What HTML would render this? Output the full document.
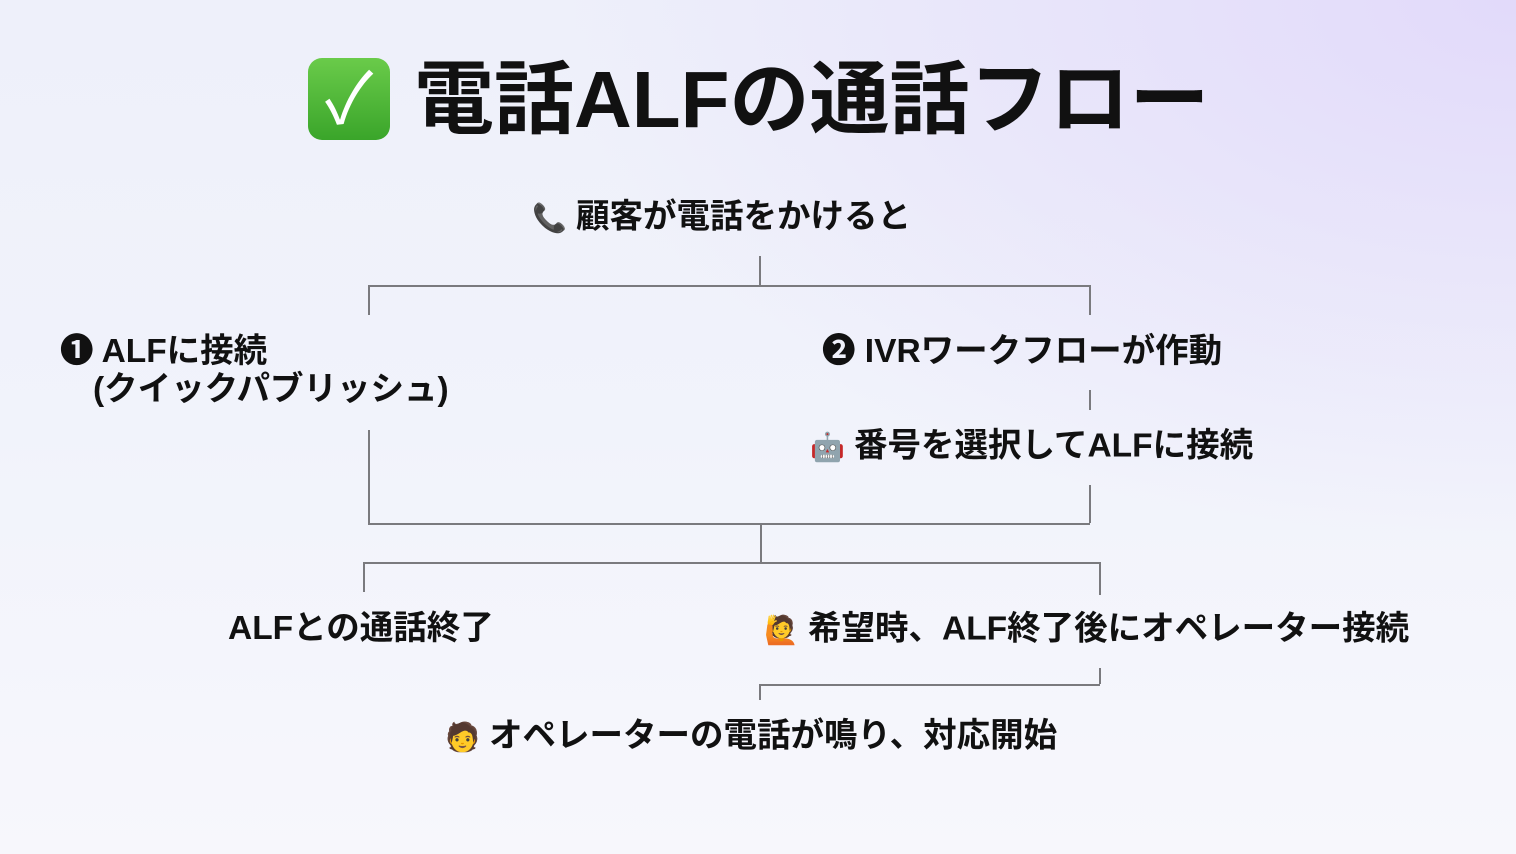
<!DOCTYPE html>
<html><head><meta charset="utf-8"><style>
html,body{margin:0;padding:0}
body{width:1516px;height:854px;position:relative;overflow:hidden;
background:radial-gradient(ellipse at 100% 0%,#e2dafa 0%,rgba(226,218,250,0) 45%),linear-gradient(180deg,#eef0fa 0%,#f1f3fb 50%,#f7f7fc 100%);
font-family:"Liberation Sans","Noto Sans CJK JP",sans-serif;color:#111;font-weight:700}
.t{position:absolute;white-space:nowrap;font-size:33.5px;line-height:40px;transform:translateY(-50%)}
.l{position:absolute;background:#7a7a7e}
.h{height:1.5px}.v{width:1.5px}
.ic{display:inline-block;width:34px;text-align:center;font-size:28px;margin-right:10px}
.check{position:absolute;left:308px;top:58px;width:82px;height:82px;border-radius:14px;background:linear-gradient(#6acb4a,#3aa52a);color:#fff;font-size:70px;line-height:82px;text-align:center;font-weight:400}
</style></head><body>
<div class="check">✓</div>
<div class="t" style="left:414px;top:100px;font-size:80px;line-height:92px;letter-spacing:0px">電話ALFの通話フロー</div>

<div class="t" style="left:532px;top:218px"><span class="ic">📞</span>顧客が電話をかけると</div>
<div class="t" style="left:60px;top:352px">❶ ALFに接続</div>
<div class="t" style="left:93px;top:390px">(クイックパブリッシュ)</div>
<div class="t" style="left:822px;top:352px">❷ IVRワークフローが作動</div>
<div class="t" style="left:810px;top:447px"><span class="ic">🤖</span>番号を選択してALFに接続</div>
<div class="t" style="left:228px;top:629px">ALFとの通話終了</div>
<div class="t" style="left:764px;top:630px"><span class="ic">🙋</span>希望時、ALF終了後にオペレーター接続</div>
<div class="t" style="left:445px;top:737px"><span class="ic">🧑</span>オペレーターの電話が鳴り、対応開始</div>

<div class="l v" style="left:759px;top:256px;height:29px"></div>
<div class="l h" style="left:368px;top:285px;width:722px"></div>
<div class="l v" style="left:368px;top:285px;height:30px"></div>
<div class="l v" style="left:1089px;top:285px;height:30px"></div>
<div class="l v" style="left:1089px;top:390px;height:20px"></div>
<div class="l v" style="left:1089px;top:485px;height:38px"></div>
<div class="l v" style="left:368px;top:430px;height:93px"></div>
<div class="l h" style="left:368px;top:523px;width:722px"></div>
<div class="l v" style="left:760px;top:523px;height:39px"></div>
<div class="l h" style="left:363px;top:562px;width:737px"></div>
<div class="l v" style="left:363px;top:562px;height:30px"></div>
<div class="l v" style="left:1099px;top:562px;height:33px"></div>
<div class="l v" style="left:1099px;top:668px;height:16px"></div>
<div class="l h" style="left:759px;top:684px;width:341px"></div>
<div class="l v" style="left:759px;top:684px;height:16px"></div>
</body></html>
